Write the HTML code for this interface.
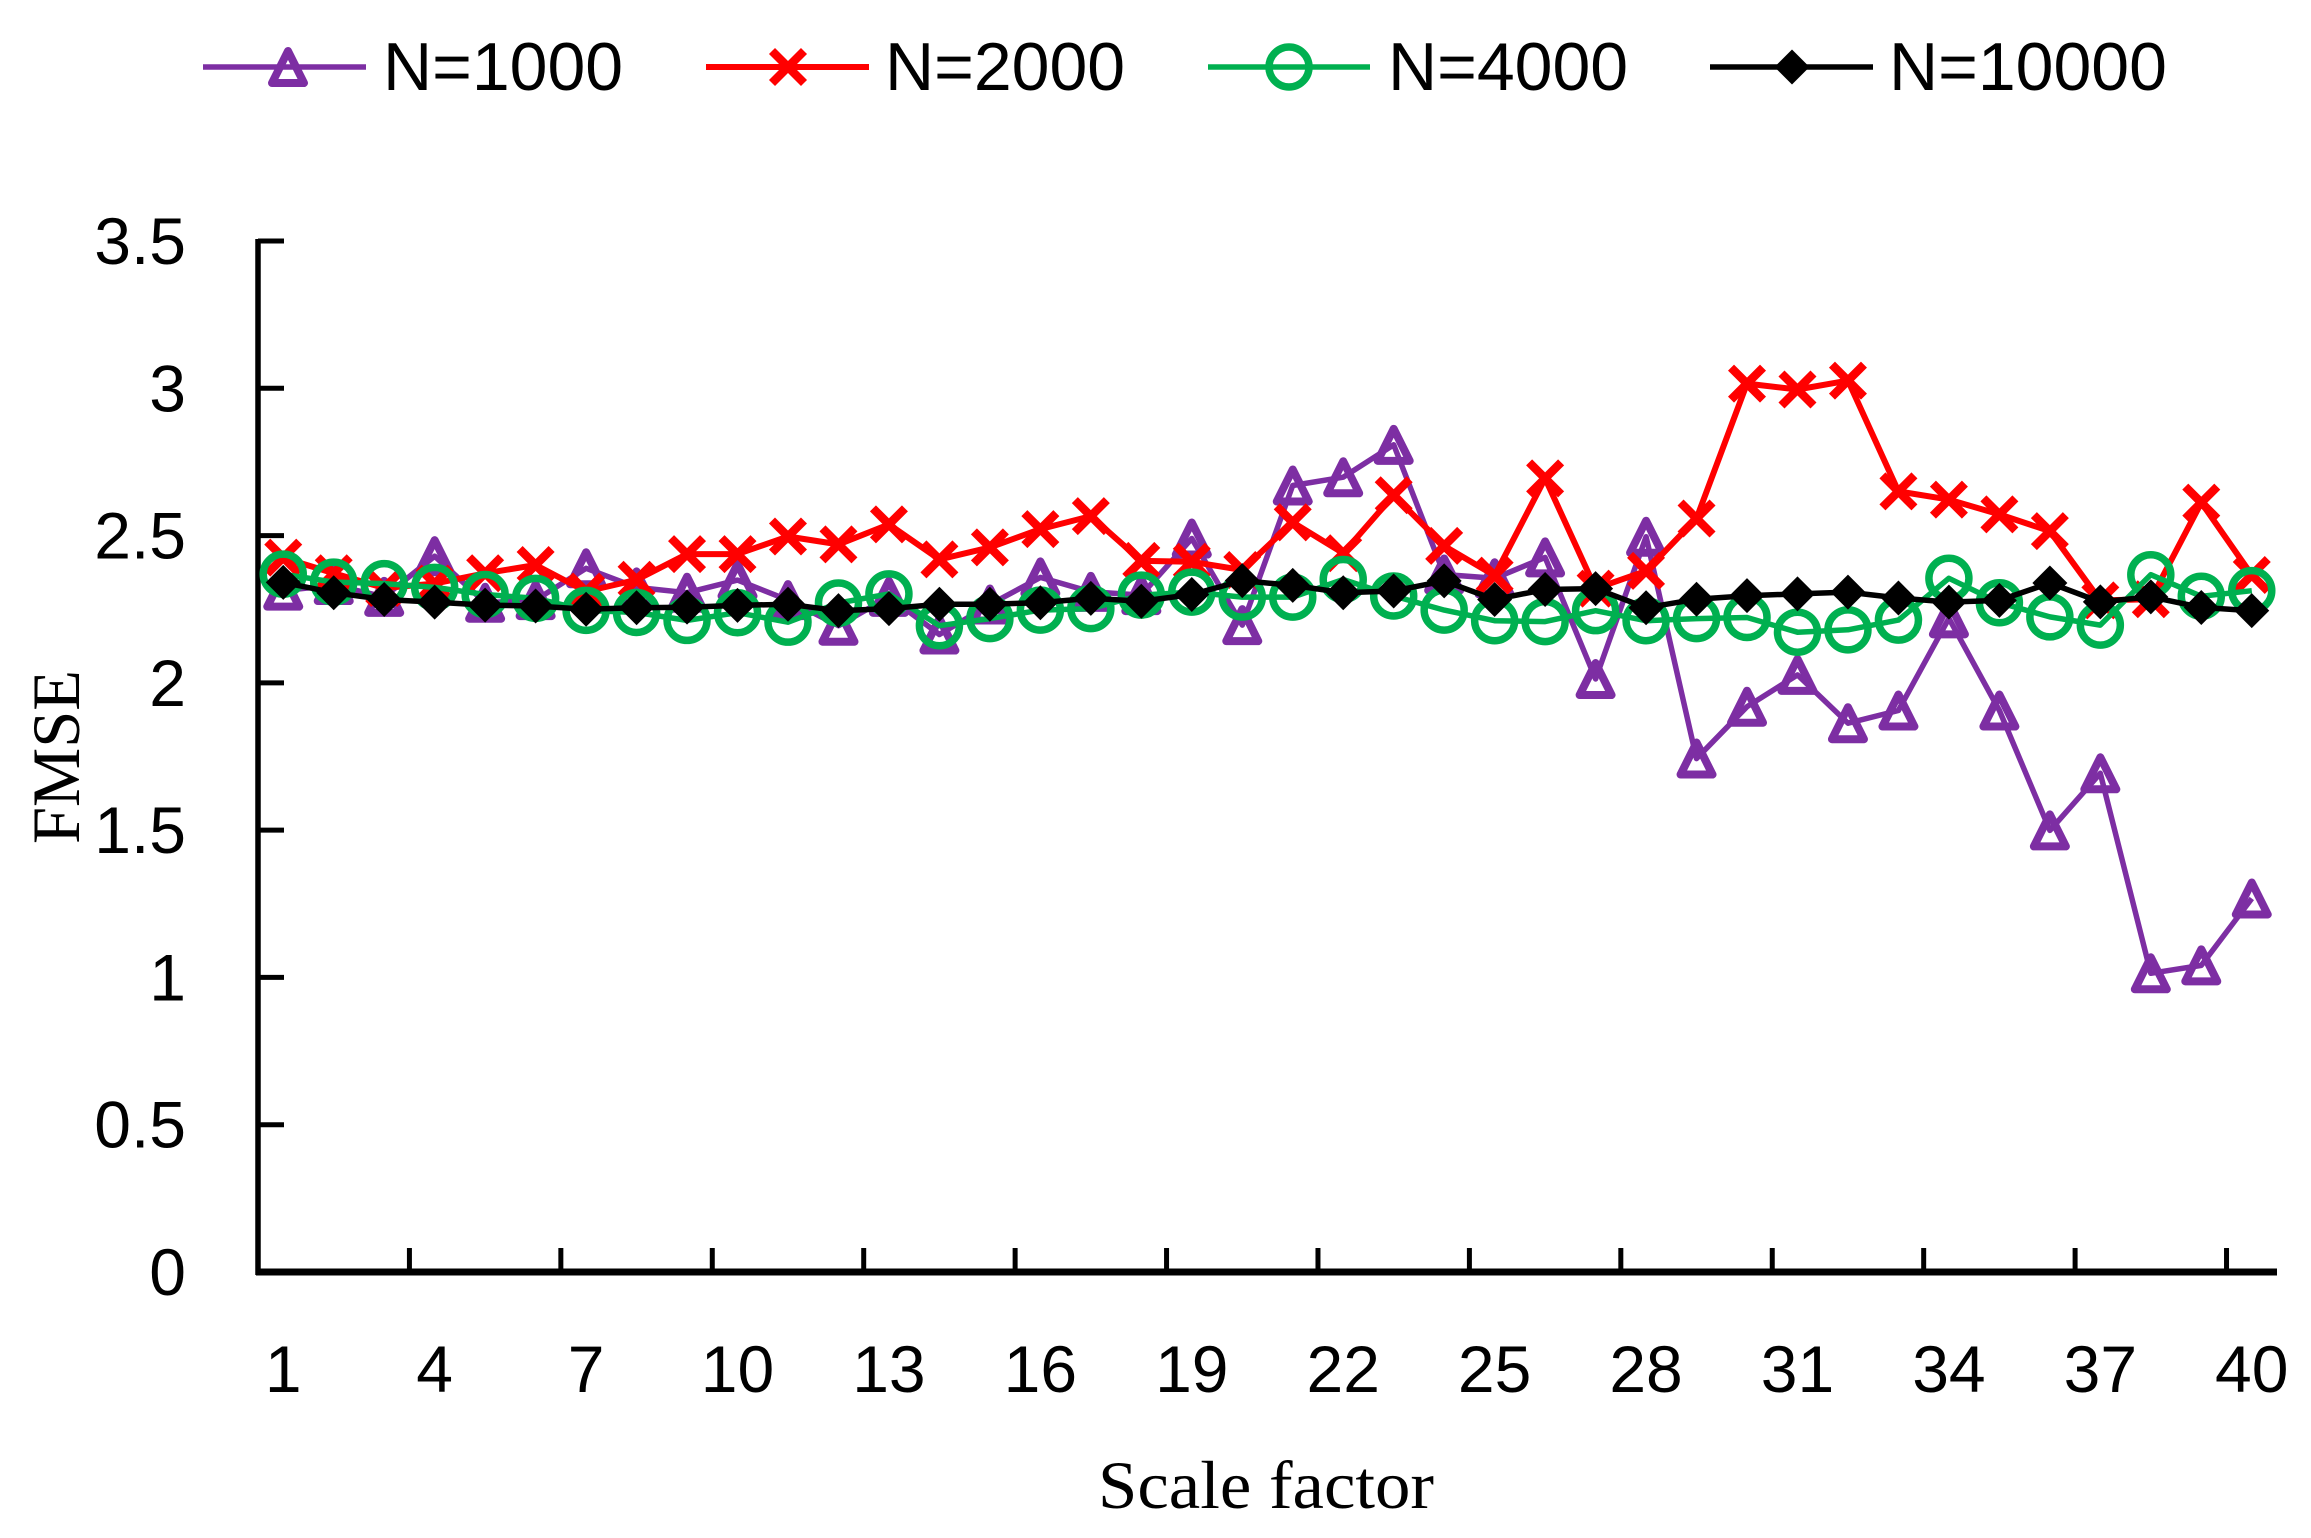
<!DOCTYPE html>
<html lang="en">
<head>
<meta charset="utf-8">
<title>FMSE vs scale factor</title>
<style>
html,body{margin:0;padding:0;background:#fff;}
#chart{display:block;}
.tick-text{font-family:"Liberation Sans",sans-serif;font-size:66px;fill:#000;}
.legend-text{font-family:"Liberation Sans",sans-serif;font-size:68px;fill:#000;}
.title-text{font-family:"Liberation Serif",serif;font-size:68px;fill:#000;}
</style>
</head>
<body>
<svg id="chart" xmlns="http://www.w3.org/2000/svg" width="2311" height="1538" viewBox="0 0 2311 1538">
  <rect x="0" y="0" width="2311" height="1538" fill="#ffffff"/>
  <g id="axes"></g>
  <g id="series"></g>
  <g id="legend">
    <text class="legend-text" x="383" y="90">N=1000</text>
    <text class="legend-text" x="885" y="90">N=2000</text>
    <text class="legend-text" x="1388" y="90">N=4000</text>
    <text class="legend-text" x="1889" y="90">N=10000</text>
  </g>
  <text class="title-text" x="1266" y="1508" text-anchor="middle" textLength="336" lengthAdjust="spacingAndGlyphs">Scale factor</text>
  <text class="title-text" transform="translate(79,757) rotate(-90)" text-anchor="middle" textLength="174" lengthAdjust="spacingAndGlyphs">FMSE</text>
</svg>
<script>
const categoryCount = 40;
const xTickLabels = ["1","4","7","10","13","16","19","22","25","28","31","34","37","40"];
const xLabelCategories = [1,4,7,10,13,16,19,22,25,28,31,34,37,40];
const yTickValues = [0,0.5,1,1.5,2,2.5,3,3.5];
const yTickLabels = ["0","0.5","1","1.5","2","2.5","3","3.5"];

const n1000 = [2.313,2.332,2.292,2.43,2.272,2.281,2.389,2.324,2.306,2.349,2.281,2.194,2.292,2.164,2.266,2.358,2.309,2.298,2.49,2.196,2.67,2.698,2.808,2.368,2.355,2.426,2.013,2.496,1.743,1.919,2.027,1.863,1.906,2.219,1.906,1.499,1.693,1.014,1.041,1.268];
const n2000 = [2.425,2.372,2.322,2.337,2.372,2.4,2.31,2.35,2.437,2.437,2.497,2.47,2.538,2.419,2.46,2.522,2.566,2.414,2.411,2.383,2.545,2.44,2.637,2.465,2.364,2.694,2.32,2.38,2.558,3.016,2.996,3.026,2.65,2.622,2.572,2.515,2.28,2.284,2.612,2.366];
const n4000 = [2.369,2.342,2.337,2.324,2.3,2.287,2.246,2.239,2.212,2.238,2.206,2.271,2.302,2.194,2.218,2.247,2.252,2.298,2.308,2.291,2.291,2.351,2.295,2.247,2.211,2.208,2.245,2.211,2.218,2.222,2.172,2.18,2.213,2.355,2.272,2.224,2.196,2.367,2.294,2.313];
const n10000 = [2.341,2.306,2.283,2.274,2.264,2.261,2.25,2.255,2.257,2.263,2.267,2.245,2.252,2.267,2.267,2.272,2.287,2.277,2.3,2.347,2.331,2.306,2.312,2.346,2.283,2.317,2.32,2.255,2.284,2.296,2.302,2.308,2.288,2.274,2.28,2.339,2.275,2.292,2.256,2.245];

const SVG_NS = "http://www.w3.org/2000/svg";
const plot = {left:258, right:2277, bottom:1272, top:241, yMax:3.5};
const purple = "#7d2ea3", red = "#ff0000", green = "#00b050", black = "#000000";

function xBand(){ return (plot.right - plot.left) / categoryCount; }
function xScale(category){ return plot.left + (category - 0.5) * xBand(); }
function yScale(value){ return plot.bottom - (value / plot.yMax) * (plot.bottom - plot.top); }

function make(tag, attrs, parent){
  const el = document.createElementNS(SVG_NS, tag);
  for (const k in attrs) el.setAttribute(k, attrs[k]);
  parent.appendChild(el);
  return el;
}

function drawMarker(kind, cx, cy, color, parent){
  let el;
  if (kind === "triangle"){
    el = make("path", {d:"M"+cx+" "+(cy-16)+"L"+(cx+16)+" "+(cy+16)+"L"+(cx-16)+" "+(cy+16)+"Z",
      fill:"none", stroke:color, "stroke-width":8, "stroke-linejoin":"round"}, parent);
  } else if (kind === "cross"){
    el = make("path", {d:"M"+(cx-16)+" "+(cy-16)+"L"+(cx+16)+" "+(cy+16)+"M"+(cx+16)+" "+(cy-16)+"L"+(cx-16)+" "+(cy+16),
      fill:"none", stroke:color, "stroke-width":8.5}, parent);
  } else if (kind === "circle"){
    el = make("circle", {cx:cx, cy:cy, r:20, fill:"none", stroke:color, "stroke-width":7.5}, parent);
  } else {
    el = make("path", {d:"M"+cx+" "+(cy-17.5)+"L"+(cx+17.5)+" "+cy+"L"+cx+" "+(cy+17.5)+"L"+(cx-17.5)+" "+cy+"Z",
      fill:color}, parent);
  }
  return el;
}

function drawAxes(){
  const g = document.getElementById("axes");
  const yAxis = make("line", {x1:plot.left, x2:plot.left, y1:plot.top-2, y2:plot.bottom+3, stroke:"#000", "stroke-width":5.5}, g);
  
  
  const xAxis = make("line", {x1:plot.left-2, x2:plot.right, y1:plot.bottom, y2:plot.bottom, stroke:"#000", "stroke-width":7}, g);
  
  

  yTickValues.forEach(function(v, i){
    const y = yScale(v);
    if (v > 0){
      const t = make("line", {x1:plot.left, x2:plot.left+26, y1:y, y2:y, stroke:"#000", "stroke-width":5}, g);
      
      
    }
    const label = make("text", {x:186, y:y+23, "text-anchor":"end", "class":"tick-text"}, g);
    label.textContent = yTickLabels[i];
    
    
  });

  for (let c = 0; c <= categoryCount; c += 3){
    const x = plot.left + c * xBand();
    const t = make("line", {x1:x, x2:x, y1:plot.bottom-24, y2:plot.bottom, stroke:"#000", "stroke-width":5}, g);
    
    
  }

  xLabelCategories.forEach(function(c, i){
    const label = make("text", {x:xScale(c), y:1392, "text-anchor":"middle", "class":"tick-text"}, g);
    label.textContent = xTickLabels[i];
    
    
  });
}

function drawSeries(values, color, width, kind, seriesName){
  const root = document.getElementById("series");
  const g = make("g", {}, root);
  
  
  const pts = values.map(function(v, i){ return xScale(i+1).toFixed(1)+","+yScale(v).toFixed(1); }).join(" ");
  const line = make("polyline", {points:pts, fill:"none", stroke:color, "stroke-width":width, "stroke-linejoin":"round"}, g);
  
  
  values.forEach(function(v, i){
    const m = drawMarker(kind, xScale(i+1), yScale(v), color, g);
    
    
  });
}

function drawLegendKey(x1, x2, mx, color, width, kind, keyName){
  const g = document.getElementById("legend");
  const y = 67;
  const line = make("line", {x1:x1, x2:x2, y1:y, y2:y, stroke:color, "stroke-width":width}, g);
  
  
  const m = drawMarker(kind, mx, y, color, g);
  
  
}

drawAxes();
drawSeries(n1000, purple, 5.5, "triangle", "series-n1000");
drawSeries(n2000, red, 6, "cross", "series-n2000");
drawSeries(n4000, green, 5.5, "circle", "series-n4000");
drawSeries(n10000, black, 5.5, "diamond", "series-n10000");
drawLegendKey(203, 366, 288, purple, 5.5, "triangle", "legend-key-n1000");
drawLegendKey(706, 869, 788, red, 6, "cross", "legend-key-n2000");
drawLegendKey(1208, 1370, 1289, green, 5.5, "circle", "legend-key-n4000");
drawLegendKey(1710, 1873, 1792, black, 5.5, "diamond", "legend-key-n10000");
</script>
</body>
</html>
